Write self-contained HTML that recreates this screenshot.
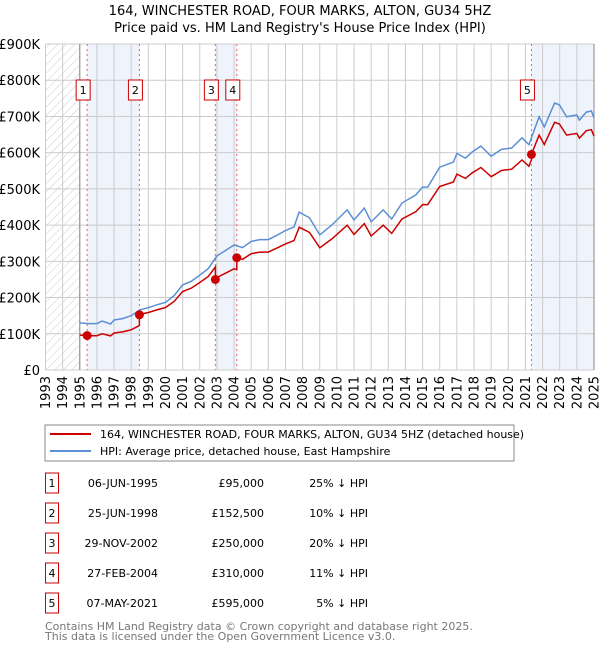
<!DOCTYPE html>
<html><head><meta charset="utf-8"><style>
body{margin:0;background:#fff;font-family:"DejaVu Sans","Liberation Sans",sans-serif;}
svg text{font-family:"DejaVu Sans","Liberation Sans",sans-serif;}
</style></head><body>
<svg id="c" width="600" height="650" xmlns="http://www.w3.org/2000/svg">
<defs><pattern id="hatch" width="6" height="6" patternUnits="userSpaceOnUse" patternTransform="rotate(45)"><line x1="0" y1="0" x2="0" y2="6" stroke="#ccc" stroke-width="1"/></pattern></defs>
<text x="300" y="15" text-anchor="middle" font-size="13">164, WINCHESTER ROAD, FOUR MARKS, ALTON, GU34 5HZ</text>
<text x="300" y="32" text-anchor="middle" font-size="13">Price paid vs. HM Land Registry's House Price Index (HPI)</text>
<g id="plot"></g>
<rect x="45" y="425" width="469" height="36" fill="#fff" stroke="#888"/>
<line x1="50" y1="434" x2="91" y2="434" stroke="#cc0000" stroke-width="2"/>
<text x="100" y="438" font-size="11">164, WINCHESTER ROAD, FOUR MARKS, ALTON, GU34 5HZ (detached house)</text>
<line x1="50" y1="451" x2="91" y2="451" stroke="#5b8fd6" stroke-width="2"/>
<text x="100" y="455" font-size="11">HPI: Average price, detached house, East Hampshire</text>
<g id="table"></g>
<text x="45" y="630" font-size="11" fill="#777">Contains HM Land Registry data © Crown copyright and database right 2025.</text>
<text x="45" y="640" font-size="11" fill="#777">This data is licensed under the Open Government Licence v3.0.</text>
</svg>
<script>
const hpiYears=[1995,1995.5,1996,1996.3,1996.8,1997,1997.5,1998,1998.5,1999,1999.5,2000,2000.5,2001,2001.5,2002,2002.5,2003,2003.5,2004,2004.5,2005,2005.5,2006,2006.5,2007,2007.5,2007.8,2008.4,2009,2009.7,2010.6,2011,2011.6,2012,2012.7,2013.2,2013.8,2014.6,2015,2015.3,2016,2016.8,2017,2017.5,2017.9,2018.4,2019,2019.6,2020.2,2020.8,2021.2,2021.8,2022.1,2022.7,2022.98,2023.4,2024,2024.15,2024.55,2024.85,2025];
const hpiValues=[130,128,128,135,127,138,142,150,166,172,180,187,205,235,245,262,280,315,330,345,338,355,360,360,372,385,395,436,420,373,400,442,414,447,409,442,417,461,483,505,505,560,574,598,585,602,618,590,609,613,641,622,699,671,737,732,699,704,690,712,715,696];
const saleLabels=["1","2","3","4","5"];
const saleDates=["06-JUN-1995","25-JUN-1998","29-NOV-2002","27-FEB-2004","07-MAY-2021"];
const saleYears=[1995.43,1998.48,2002.91,2004.16,2021.35];
const salePrices=[95,152.5,250,310,595];
const saleDiffs=["25%","10%","20%","11%","5%"];
const yTicks=[0,100,200,300,400,500,600,700,800,900];
const yTickLabels=["£0","£100K","£200K","£300K","£400K","£500K","£600K","£700K","£800K","£900K"];

const NS="http://www.w3.org/2000/svg";
const X0=45.5,X1=594,Y0=370,Y1=44;
const xs=t=>X0+(t-1993)/32*(X1-X0);
const ys=v=>Y0-v/900*(Y0-Y1);
function mk(tag,attrs,parent){const e=document.createElementNS(NS,tag);for(const k in attrs)e.setAttribute(k,attrs[k]);parent.appendChild(e);return e;}
function hpiAt(t){if(t<=hpiYears[0])return hpiValues[0];for(let i=1;i<hpiYears.length;i++){if(t<=hpiYears[i]){const f=(t-hpiYears[i-1])/(hpiYears[i]-hpiYears[i-1]);return hpiValues[i-1]+f*(hpiValues[i]-hpiValues[i-1]);}}return hpiValues[hpiValues.length-1];}
const P=document.getElementById('plot');
// hatch
let h=mk('rect',{x:X0,y:Y1,width:xs(1995)-X0,height:Y0-Y1,fill:'url(#hatch)'},P);


// shaded bands
const bands=[[saleYears[0],saleYears[1]],[saleYears[2],saleYears[3]],[saleYears[4],2025]];
bands.forEach((b)=>{const r=mk('rect',{x:xs(b[0]),y:Y1,width:xs(b[1])-xs(b[0]),height:Y0-Y1,fill:'#eef3fc'},P);

});
// grid
for(let yr=1993;yr<=2025;yr++){const l=mk('line',{x1:xs(yr),x2:xs(yr),y1:Y1,y2:Y0,stroke:'#ccc','stroke-width':1},P);


const tx=xs(yr)+4.5;const t=mk('text',{x:tx,y:376,'font-size':13,'text-anchor':'end',transform:`rotate(-90 ${tx} 376)`},P);t.textContent=yr;

}
yTicks.forEach((v,i)=>{const l=mk('line',{x1:X0,x2:X1,y1:ys(v),y2:ys(v),stroke:'#ccc','stroke-width':1},P);


const t=mk('text',{x:40,y:ys(v)+5,'font-size':13,'text-anchor':'end'},P);t.textContent=yTickLabels[i];

});
let ax=mk('line',{x1:xs(1995),x2:xs(1995),y1:Y1,y2:Y0,stroke:'#888'},P);


let ax2=mk('line',{x1:X1,x2:X1,y1:Y1,y2:Y0,stroke:'#888'},P);


// sale lines and boxes
saleYears.forEach((s,i)=>{const l=mk('line',{x1:xs(s),x2:xs(s),y1:Y1,y2:Y0,stroke:'#f06060','stroke-dasharray':'2,3'},P);


const bx=xs(s)-11;const r=mk('rect',{x:bx,y:80,width:14,height:20,fill:'#fff',stroke:'#cc0000'},P);


const t=mk('text',{x:bx+7,y:94,'font-size':11,'text-anchor':'middle'},P);t.textContent=saleLabels[i];

});
// HPI line
let d='';hpiYears.forEach((t,i)=>{d+=(i?'L':'M')+xs(t).toFixed(1)+','+ys(hpiValues[i]).toFixed(1);});
const hl=mk('path',{d:d,fill:'none',stroke:'#5b8fd6','stroke-width':1.5},P);


// property line: sale price indexed by HPI
const pts=[...new Set([...hpiYears,...saleYears])].sort((a,b)=>a-b);
let rd='';let first=true;
pts.forEach(t=>{let k=0;for(let i=0;i<saleYears.length;i++)if(saleYears[i]<=t)k=i;
const val=salePrices[k]*hpiAt(t)/hpiAt(saleYears[k]);
if(saleYears.includes(t)&&!first){const kp=Math.max(0,k-1);const pv=salePrices[kp]*hpiAt(t)/hpiAt(saleYears[kp]);rd+='L'+xs(t).toFixed(1)+','+ys(pv).toFixed(1);}
rd+=(first?'M':'L')+xs(t).toFixed(1)+','+ys(val).toFixed(1);first=false;});
const rl=mk('path',{d:rd,fill:'none',stroke:'#cc0000','stroke-width':1.5},P);


saleYears.forEach((s,i)=>{const c=mk('circle',{cx:xs(s),cy:ys(salePrices[i]),r:4.5,fill:'#cc0000'},P);

});
// table
const T=document.getElementById('table');
saleLabels.forEach((lab,i)=>{const cy=483+i*30;
const r=mk('rect',{x:45.5,y:cy-10,width:13,height:20,fill:'#fff',stroke:'#cc0000'},T);


const cells=[[52,lab,'middle'],[158,saleDates[i],'end'],[264,'£'+salePrices[i].toLocaleString('en-GB',{minimumFractionDigits:0})+(salePrices[i]%1?'00':',000'),'end'],[368,saleDiffs[i]+' ↓ HPI','end']];
cells.forEach(c=>{const t=mk('text',{x:c[0],y:cy+4,'font-size':11,'text-anchor':c[2]},T);t.textContent=c[1];

});});
// fix price strings
T.querySelectorAll('text').forEach(t=>{if(t.textContent.startsWith('£'))t.textContent='£'+Math.round(parseFloat(t.textContent.slice(1).replace(/,/g,''))*1).toString();});
saleLabels.forEach((l,i)=>{});
const priceTexts=[...T.querySelectorAll('text')].filter(t=>t.textContent.startsWith('£'));
priceTexts.forEach((t,i)=>{t.textContent='£'+Math.round(salePrices[i]*1000).toLocaleString('en-GB');});
</script>
</body></html>
